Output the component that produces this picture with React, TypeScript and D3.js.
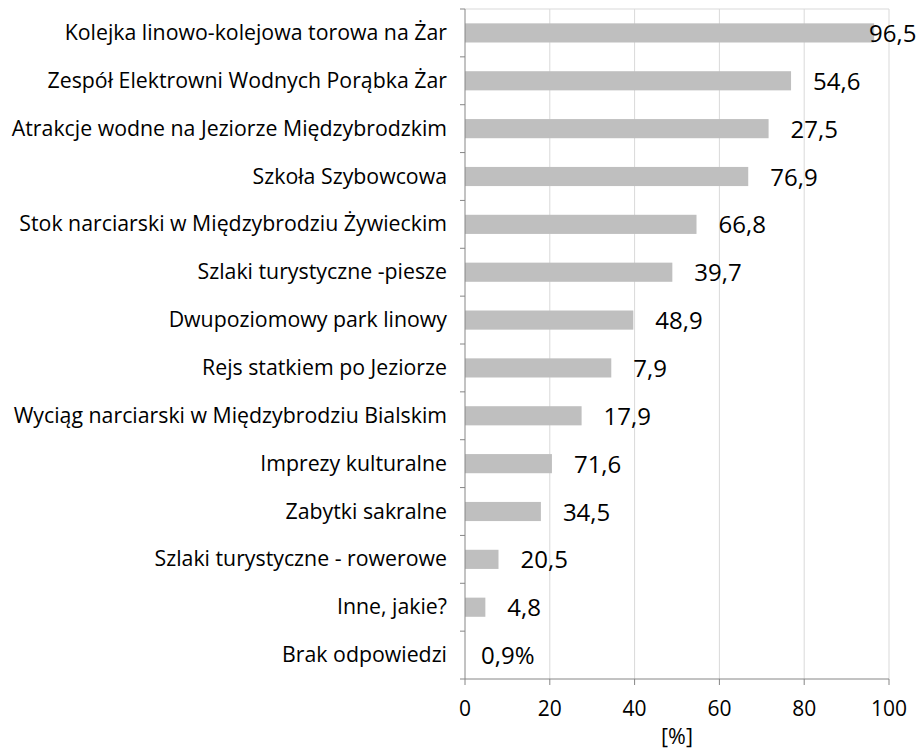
import * as d3 from 'd3';

const categories = [
  'Kolejka linowo-kolejowa torowa na Żar',
  'Zespół Elektrowni Wodnych Porąbka Żar',
  'Atrakcje wodne na Jeziorze Międzybrodzkim',
  'Szkoła Szybowcowa',
  'Stok narciarski w Międzybrodziu Żywieckim',
  'Szlaki turystyczne -piesze',
  'Dwupoziomowy park linowy',
  'Rejs statkiem po Jeziorze',
  'Wyciąg narciarski w Międzybrodziu Bialskim',
  'Imprezy kulturalne',
  'Zabytki sakralne',
  'Szlaki turystyczne - rowerowe',
  'Inne, jakie?',
  'Brak odpowiedzi',
];

// bar lengths as drawn
const barValues = [96.5, 76.9, 71.6, 66.8, 54.6, 48.9, 39.7, 34.5, 27.5, 20.5, 17.9, 7.9, 4.8, 0];

// data labels as printed next to the bars
const valueLabels = ['96,5', '54,6', '27,5', '76,9', '66,8', '39,7', '48,9', '7,9', '17,9', '71,6', '34,5', '20,5', '4,8', '0,9%'];

const xTicks = [0, 20, 40, 60, 80, 100];

const W = 919;
const H = 749;
const FONT = '"Open Sans", sans-serif';

export default function App() {
  const margin = { top: 9, right: 30, bottom: 70, left: 465 };
  const x = d3.scaleLinear().domain([0, 100]).range([margin.left, 889]);
  const y = d3.scaleBand<string>().domain(categories).range([margin.top, 679]).paddingInner(0.6).paddingOuter(0.3);
  const bands = d3.scaleBand<string>().domain(categories).range([margin.top, 679]);
  const x0 = x(0);
  const yBottom = 679;

  return (
    <svg width={W} height={H} style={{ position: 'absolute', left: 0, top: 0, background: '#fff' }} fontFamily={FONT}>
      {/* grid */}
      {xTicks.slice(1).map((t) => (
        <line key={t} x1={x(t)} x2={x(t)} y1={margin.top} y2={yBottom} stroke="#d9d9d9" strokeWidth={1} />
      ))}
      <line x1={x0} x2={x(100)} y1={margin.top} y2={margin.top} stroke="#d9d9d9" />

      {/* bars */}
      {categories.map((c, i) => (
        <rect key={c} x={x0} y={y(c)} width={x(barValues[i]) - x0} height={y.bandwidth()} fill="#bfbfbf" />
      ))}

      {/* value labels */}
      {categories.map((c, i) => {
        const cy = (bands(c) as number) + bands.bandwidth() / 2;
        let lx = x(barValues[i]) + 22;
        if (i === 0) lx = 869;
        if (i === categories.length - 1) lx = x0 + 16;
        return (
          <text key={c} x={lx} y={cy + 9} fontSize={24} fill="#000">
            {valueLabels[i]}
          </text>
        );
      })}

      {/* y axis */}
      <line x1={x0} x2={x0} y1={margin.top} y2={yBottom} stroke="#868686" />
      {d3.range(categories.length + 1).map((i) => {
        const yy = margin.top + i * bands.step();
        return <line key={i} x1={x0 - 5} x2={x0} y1={yy} y2={yy} stroke="#868686" />;
      })}
      {categories.map((c) => (
        <text key={c} x={447} y={(bands(c) as number) + bands.bandwidth() / 2 + 7} textAnchor="end" fontSize={21.3} fill="#000">
          {c}
        </text>
      ))}

      {/* x axis */}
      <line x1={x0} x2={x(100)} y1={yBottom} y2={yBottom} stroke="#868686" />
      {xTicks.map((t) => (
        <g key={t}>
          <line x1={x(t)} x2={x(t)} y1={yBottom} y2={yBottom + 6} stroke="#868686" />
          <text x={x(t)} y={716} textAnchor="middle" fontSize={21} fill="#000">
            {t}
          </text>
        </g>
      ))}
      <text x={(x0 + x(100)) / 2} y={744} textAnchor="middle" fontSize={21.5} fill="#000">
        [%]
      </text>
    </svg>
  );
}
